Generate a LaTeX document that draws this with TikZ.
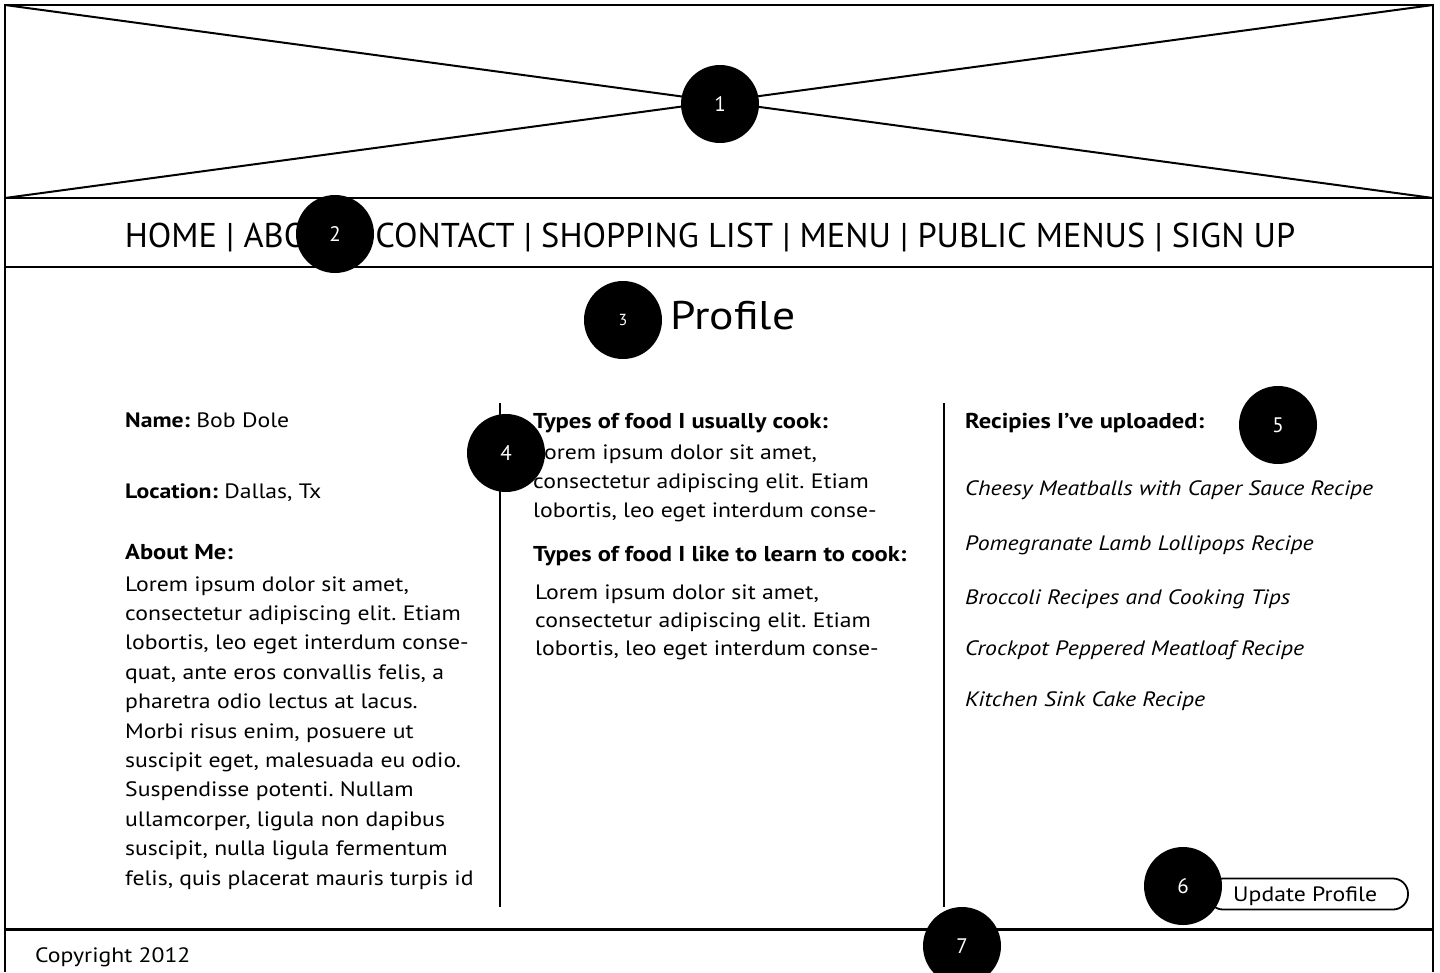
\documentclass[tikz,border=0pt]{standalone}
\usepackage{fontspec}
\setmainfont[FakeStretch=1.14]{PT Sans}
\newfontfamily\navfont{PT Sans}
\begin{document}
\frenchspacing
\begin{tikzpicture}[x=1pt,y=-1pt,
  frame/.style={line width=2.6pt},
  thin/.style={line width=2pt},
  marker/.style={circle,fill=black,text=white,minimum size=78pt,inner sep=0pt,font=\navfont\fontsize{21}{23}\selectfont},
  body/.style={anchor=base west,inner sep=0pt,font=\fontsize{20.8}{24}\selectfont},
  bodyb/.style={body,font=\fontsize{21.5}{24}\selectfont\bfseries},
  bodyi/.style={body,font=\fontsize{20.8}{24}\selectfont\itshape},
  btn/.style={draw,line width=1.8pt,rounded corners=15pt,minimum height=31pt,minimum width=200pt,inner sep=0pt}
]
\useasboundingbox (0,0) rectangle (1440,972);
% frame
\coordinate (tl) at (5,5); \coordinate (tr) at (1433,5);
\coordinate (bl) at (5,972); \coordinate (br) at (1433,972);
\coordinate (hl) at (5,198); \coordinate (hr) at (1433,198);
\coordinate (nl) at (5,267); \coordinate (nr) at (1433,267);
\coordinate (fl) at (5,929); \coordinate (fr) at (1433,929);
\draw[frame] (bl) -- (tl) -- (tr) -- (br);
\draw[frame] (hl) -- (hr);
\draw[thin] (nl) -- (nr);
\draw[frame,line width=3pt] (fl) -- (fr);
\draw[thin] (tl) -- (hr);
\draw[thin] (hl) -- (tr);
% columns
\coordinate (d1t) at (500,403); \coordinate (d1b) at (500,907);
\coordinate (d2t) at (944,403); \coordinate (d2b) at (944,907);
\draw[thin] (d1t) -- (d1b);
\draw[thin] (d2t) -- (d2b);
% nav
\node[anchor=base,inner sep=0pt,font=\navfont\fontsize{34.4}{38}\selectfont] (nav) at (710,247) {HOME | ABOUT | CONTACT | SHOPPING LIST | MENU | PUBLIC MENUS | SIGN UP};
\node[anchor=base west,inner sep=0pt,font=\fontsize{40}{44}\selectfont] (title) at (670,329) {Profile};
% left column
\node[body] (name) at (125,427) {\textbf{Name:} Bob Dole};
\node[body] (loc) at (125,498) {\textbf{Location:} Dallas, Tx};
\node[bodyb] (about) at (125,559) {About Me:};
\foreach \t [count=\i] in {{Lorem ipsum dolor sit amet,},{consectetur adipiscing elit. Etiam},{lobortis, leo eget interdum conse-},{quat, ante eros convallis felis, a},{pharetra odio lectus at lacus.},{Morbi risus enim, posuere ut},{suscipit eget, malesuada eu odio.},{Suspendisse potenti. Nullam},{ullamcorper, ligula non dapibus},{suscipit, nulla ligula fermentum},{felis, quis placerat mauris turpis id}}
  \node[body] (ab\i) at (125,{591+29.4*(\i-1)}) {\t};
% middle column
\node[bodyb] (usual) at (533,428) {Types of food I usually cook:};
\foreach \t [count=\i] in {{Lorem ipsum dolor sit amet,},{consectetur adipiscing elit. Etiam},{lobortis, leo eget interdum conse-}}
  \node[body] (us\i) at (533,{459+29*(\i-1)}) {\t};
\node[bodyb] (learn) at (533,561) {Types of food I like to learn to cook:};
\foreach \t [count=\i] in {{Lorem ipsum dolor sit amet,},{consectetur adipiscing elit. Etiam},{lobortis, leo eget interdum conse-}}
  \node[body] (le\i) at (535,{599+28*(\i-1)}) {\t};
% right column
\node[bodyb] (rec) at (965,428) {Recipies I’ve uploaded:};
\node[bodyi] (r1) at (965,495) {Cheesy Meatballs with Caper Sauce Recipe};
\node[bodyi] (r2) at (965,550) {Pomegranate Lamb Lollipops Recipe};
\node[bodyi] (r3) at (965,604) {Broccoli Recipes and Cooking Tips};
\node[bodyi] (r4) at (965,655) {Crockpot Peppered Meatloaf Recipe};
\node[bodyi] (r5) at (965,706) {Kitchen Sink Cake Recipe};
% button
\node[btn] (button) at (1308,894) {};
\node[body] (btntext) at (1233,901) {Update Profile};
% footer
\node[body] (copy) at (35,962) {Copyright 2012};
% markers
\node[marker] (m1) at (720,104) {1};
\node[marker] (m2) at (335,234) {2};
\node[marker,font=\navfont\fontsize{16}{18}\selectfont] (m3) at (623,320) {3};
\node[marker] (m4) at (506,453) {4};
\node[marker] (m5) at (1278,425) {5};
\node[marker] (m6) at (1183,886) {6};
\node[marker] (m7) at (962,946) {7};
\end{tikzpicture}
\end{document}
